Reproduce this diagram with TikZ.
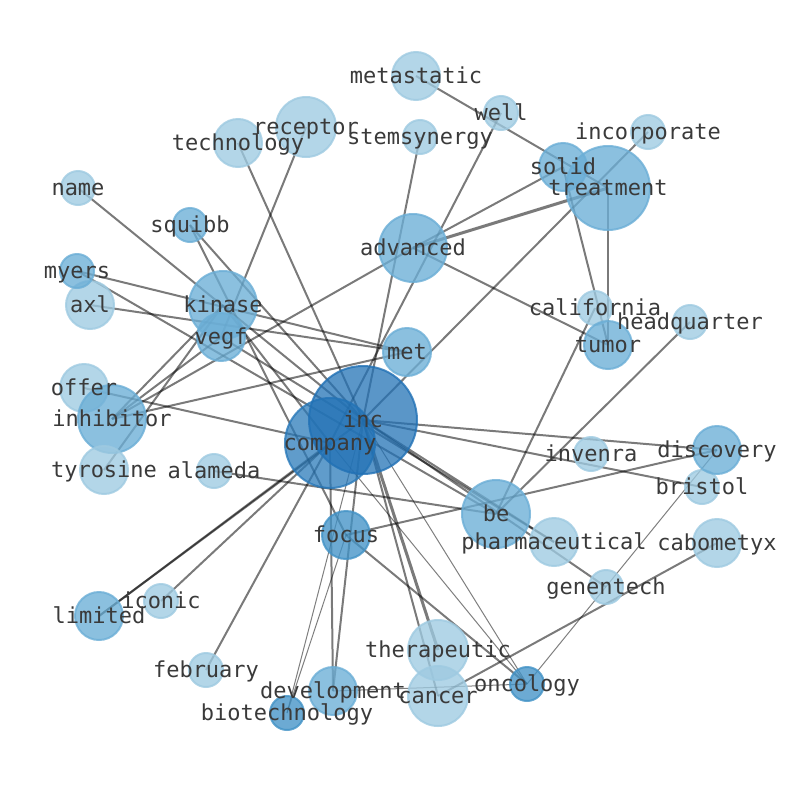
\documentclass[tikz,border=0pt]{standalone}
\usepackage{fontspec}
\setmonofont{DejaVu Sans Mono}
\definecolor{cL}{HTML}{9ECAE1}
\definecolor{cM}{HTML}{6BAED6}
\definecolor{cD}{HTML}{4292C6}
\definecolor{cX}{HTML}{2171B5}
\definecolor{txt}{HTML}{3A3A3A}
\begin{document}
\begin{tikzpicture}[x=1pt,y=-1pt,
  nd/.style={circle,inner sep=0pt,line width=2pt,fill opacity=0.78,draw opacity=0.8},
  lt/.style={nd,fill=cL,draw=cL},
  md/.style={nd,fill=cM,draw=cM},
  dk/.style={nd,fill=cD,draw=cD},
  xd/.style={nd,fill=cX,draw=cX,fill opacity=0.74},
  xc/.style={nd,fill=cX!75!cD,draw=cX!75!cD,fill opacity=0.74},
  lbl/.style={font=\ttfamily\fontsize{22}{22}\selectfont,text=txt,inner sep=0pt,
    text height=17.4pt,text depth=3.4pt},
  edg/.style={line width=2pt,draw=black,draw opacity=0.52},
  edgthin/.style={line width=1pt,draw=black,draw opacity=0.5},
  edgthick/.style={line width=3pt,draw=black,draw opacity=0.52}]
\useasboundingbox (0,0) rectangle (794,790);
% node positions
\coordinate (p-metastatic) at (416,76);
\coordinate (p-well) at (501,113);
\coordinate (p-receptor) at (306,127);
\coordinate (p-technology) at (238,143);
\coordinate (p-stemsynergy) at (420,137);
\coordinate (p-incorporate) at (648,132);
\coordinate (p-solid) at (563,167);
\coordinate (p-treatment) at (608,188);
\coordinate (p-name) at (78,188);
\coordinate (p-squibb) at (190,225);
\coordinate (p-advanced) at (413,248);
\coordinate (p-myers) at (77,271);
\coordinate (p-axl) at (90,305);
\coordinate (p-kinase) at (223,305);
\coordinate (p-vegf) at (221,337);
\coordinate (p-met) at (407,352);
\coordinate (p-california) at (595,308);
\coordinate (p-headquarter) at (690,322);
\coordinate (p-tumor) at (608,345);
\coordinate (p-offer) at (84,388);
\coordinate (p-inhibitor) at (112,419);
\coordinate (p-inc) at (363,420);
\coordinate (p-company) at (330,443);
\coordinate (p-tyrosine) at (104,470);
\coordinate (p-alameda) at (214,471);
\coordinate (p-invenra) at (591,454);
\coordinate (p-discovery) at (717,450);
\coordinate (p-bristol) at (702,487);
\coordinate (p-be) at (496,514);
\coordinate (p-pharmaceutical) at (554,542);
\coordinate (p-cabometyx) at (717,543);
\coordinate (p-focus) at (346,535);
\coordinate (p-genentech) at (606,587);
\coordinate (p-iconic) at (161,601);
\coordinate (p-limited) at (99,616);
\coordinate (p-therapeutic) at (438,650);
\coordinate (p-february) at (206,670);
\coordinate (p-development) at (333,691);
\coordinate (p-cancer) at (438,696);
\coordinate (p-oncology) at (527,684);
\coordinate (p-biotechnology) at (287,713);
% edges
\foreach \a/\b in {metastatic/treatment, well/company, stemsynergy/inc, incorporate/inc,
  solid/advanced, solid/tumor, treatment/tumor, advanced/tumor, california/be, headquarter/be,
  technology/inc, receptor/vegf, squibb/inc, squibb/focus, name/inc, myers/met, myers/be,
  axl/met, inhibitor/met, advanced/inhibitor, inhibitor/kinase, inhibitor/vegf,
  tyrosine/kinase, kinase/company, vegf/pharmaceutical, offer/company, company/limited, inc/limited,
  company/iconic, company/february, alameda/be, company/development, inc/development,
  focus/oncology, focus/discovery, inc/discovery, inc/bristol, inc/pharmaceutical, inc/genentech,
  cancer/cabometyx, inc/cancer}
  \draw[edg] (p-\a) -- (p-\b);
\draw[edgthick] (p-treatment) -- (p-advanced);
\draw[edgthick] (p-inc) -- (p-therapeutic);
\foreach \a/\b in {inc/biotechnology, focus/biotechnology, inc/oncology, company/oncology,
  development/oncology, oncology/discovery}
  \draw[edgthin] (p-\a) -- (p-\b);
% nodes
\node[lt,minimum size=48pt] (metastatic) at (p-metastatic) {};
\node[lt,minimum size=34pt] (well) at (p-well) {};
\node[lt,minimum size=60pt] (receptor) at (p-receptor) {};
\node[lt,minimum size=48pt] (technology) at (p-technology) {};
\node[lt,minimum size=34pt] (stemsynergy) at (p-stemsynergy) {};
\node[lt,minimum size=34pt] (incorporate) at (p-incorporate) {};
\node[md,minimum size=48pt] (solid) at (p-solid) {};
\node[md,minimum size=84pt] (treatment) at (p-treatment) {};
\node[lt,minimum size=34pt] (name) at (p-name) {};
\node[md,minimum size=34pt] (squibb) at (p-squibb) {};
\node[md,minimum size=68pt] (advanced) at (p-advanced) {};
\node[lt,minimum size=48pt] (axl) at (p-axl) {};
\node[md,minimum size=34pt] (myers) at (p-myers) {};
\node[md,minimum size=48pt] (vegf) at (p-vegf) {};
\node[md,minimum size=68pt] (kinase) at (p-kinase) {};
\node[md,minimum size=48pt] (met) at (p-met) {};
\node[lt,minimum size=34pt] (california) at (p-california) {};
\node[lt,minimum size=34pt] (headquarter) at (p-headquarter) {};
\node[md,minimum size=48pt] (tumor) at (p-tumor) {};
\node[lt,minimum size=48pt] (offer) at (p-offer) {};
\node[md,minimum size=68pt] (inhibitor) at (p-inhibitor) {};
\node[xc,minimum size=90pt] (company) at (p-company) {};
\node[xd,minimum size=108pt] (inc) at (p-inc) {};
\node[lt,minimum size=48pt] (tyrosine) at (p-tyrosine) {};
\node[lt,minimum size=34pt] (alameda) at (p-alameda) {};
\node[lt,minimum size=34pt] (invenra) at (p-invenra) {};
\node[lt,minimum size=34pt] (bristol) at (p-bristol) {};
\node[md,minimum size=48pt] (discovery) at (p-discovery) {};
\node[md,minimum size=68pt] (be) at (p-be) {};
\node[lt,minimum size=48pt] (pharmaceutical) at (p-pharmaceutical) {};
\node[lt,minimum size=48pt] (cabometyx) at (p-cabometyx) {};
\node[dk,minimum size=48pt] (focus) at (p-focus) {};
\node[lt,minimum size=34pt] (genentech) at (p-genentech) {};
\node[lt,minimum size=34pt] (iconic) at (p-iconic) {};
\node[md,minimum size=48pt] (limited) at (p-limited) {};
\node[lt,minimum size=60pt] (therapeutic) at (p-therapeutic) {};
\node[lt,minimum size=34pt] (february) at (p-february) {};
\node[md,minimum size=48pt] (development) at (p-development) {};
\node[lt,minimum size=60pt] (cancer) at (p-cancer) {};
\node[dk,minimum size=34pt] (oncology) at (p-oncology) {};
\node[dk,minimum size=34pt] (biotechnology) at (p-biotechnology) {};
% labels
\foreach \n in {metastatic,well,receptor,technology,stemsynergy,incorporate,solid,treatment,
  name,squibb,advanced,axl,myers,vegf,kinase,met,california,headquarter,tumor,offer,inhibitor,
  company,inc,tyrosine,alameda,invenra,bristol,discovery,be,pharmaceutical,cabometyx,focus,
  genentech,iconic,limited,therapeutic,february,development,cancer,oncology,biotechnology}
  \node[lbl] (t-\n) at (\n.center) {\n};
\end{tikzpicture}
\end{document}
